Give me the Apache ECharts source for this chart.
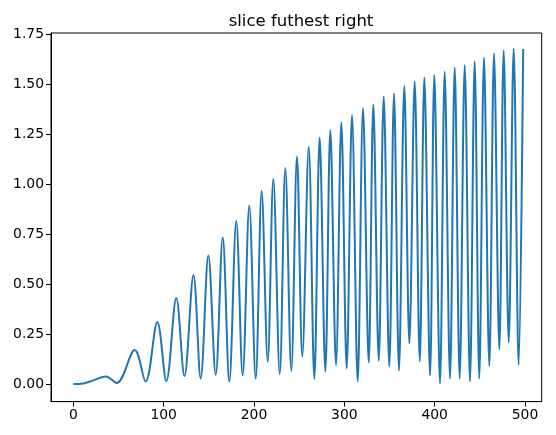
<!DOCTYPE html>
<html>
<head>
<meta charset="utf-8">
<script src="https://cdn.jsdelivr.net/npm/echarts@6/dist/echarts.min.js"></script>
<style>
  html, body { margin: 0; padding: 0; background: #fff; }
  #chart { width: 556px; height: 435px; }
</style>
</head>
<body>
<div id="chart"></div>
<script>
// turning points of the curve
const sliceX = [0, 11, 22, 36, 48, 68, 80, 93, 103, 114, 123, 133, 141, 149.5, 157.6,
  165.4, 172.7, 180.4, 187.5, 194.8, 201.9, 208.5, 215.2, 221.4, 228.5, 234.7, 241.3,
  247.6, 253.5, 260.6, 266.8, 272.7, 279, 284.5, 290.8, 296.7, 302.6, 308.5, 314.8,
  320.7, 327, 332.1, 338.1, 343.6, 349.8, 355, 360.5, 366.4, 372, 377.9, 383.5, 388.6,
  394.9, 399.6, 405.9, 411.1, 417, 422.2, 427.7, 433.3, 439.1, 444.3, 449.4, 454.6,
  460.5, 465.7, 471.6, 476.4, 482, 487.5, 493, 498]
const sliceY = [0, 0.003, 0.018, 0.038, 0.005, 0.17, 0.012, 0.31, 0.015, 0.43, 0.04,
  0.545, 0.028, 0.643, 0.046, 0.733, 0.012, 0.815, 0.043, 0.893, 0.027, 0.965, 0.112,
  1.025, 0.05, 1.08, 0.065, 1.137, 0.137, 1.185, 0.025, 1.232, 0.062, 1.27, 0.095,
  1.308, 0.078, 1.345, 0.012, 1.38, 0.107, 1.398, 0.115, 1.438, 0.087, 1.453, 0.067,
  1.49, 0.203, 1.513, 0.113, 1.532, 0.042, 1.545, 0.003, 1.562, 0.028, 1.582, 0.028,
  1.595, 0.012, 1.612, 0.028, 1.632, 0.09, 1.652, 0.173, 1.668, 0.208, 1.678, 0.095, 1.675]

const xTicks = [0, 100, 200, 300, 400, 500]
const yTicks = [0, 0.25, 0.5, 0.75, 1.0, 1.25, 1.5, 1.75]

const chart = echarts.init(document.getElementById('chart'))

const font = 'DejaVu Sans'

const axisCommon = {
    axisLine: { show: true, onZero: false, lineStyle: { color: '#000', width: 1 } },
    axisTick: { show: true, length: 5, lineStyle: { color: '#000', width: 1 } },
    splitLine: { show: false },
}

chart.setOption({
    animation: false,
    backgroundColor: '#fff',
    title: {
        text: 'slice futhest right',
        left: 296,
        top: 8,
        textAlign: 'center',
        textStyle: { fontFamily: font, fontSize: 16.5, fontWeight: 'normal', color: '#000' }
    },
    grid: {
        left: 51,
        right: 14.3,
        top: 33,
        bottom: 33.4,
        show: true,
        borderColor: '#000',
        borderWidth: 1
    },
    xAxis: {
        type: 'value',
        min: -24.7,
        max: 518.5,
        ...axisCommon,
        axisTick: { ...axisCommon.axisTick, customValues: xTicks },
        axisLabel: {
            customValues: xTicks,
            margin: 7,
            fontFamily: font,
            fontSize: 13.9,
            color: '#000'
        }
    },
    yAxis: {
        type: 'value',
        min: -0.088,
        max: 1.755,
        ...axisCommon,
        axisTick: { ...axisCommon.axisTick, customValues: yTicks },
        axisLabel: {
            customValues: yTicks,
            margin: 7,
            fontFamily: font,
            fontSize: 13.9,
            color: '#000',
            formatter: v => v.toFixed(2)
        }
    },
    series: [{
        type: 'line',
        data: sliceX.map((x, i) => [x, sliceY[i]]),
        smooth: 0.35,
        showSymbol: false,
        lineStyle: { color: '#1f77b4', width: 2 }
    }]
})
</script>
</body>
</html>
